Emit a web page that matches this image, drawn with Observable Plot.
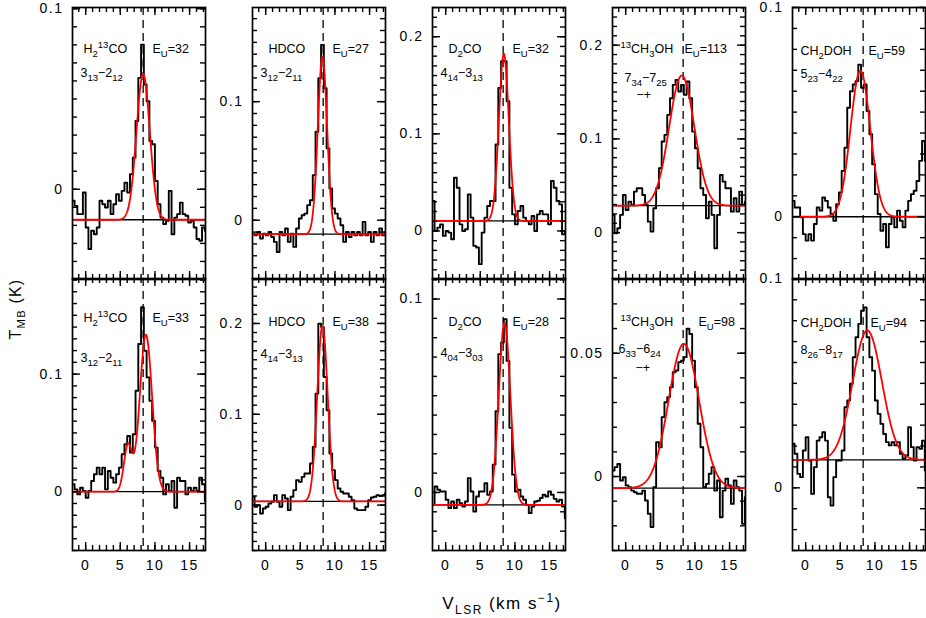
<!DOCTYPE html>
<html><head><meta charset="utf-8">
<script src="https://cdn.jsdelivr.net/npm/d3@7"></script>
<script src="https://cdn.jsdelivr.net/npm/@observablehq/plot@0.6"></script>
<style>
html,body{margin:0;padding:0;background:#fff;}
#chart{position:relative;width:926px;height:618px;overflow:hidden;font-family:"Liberation Sans",Arial,sans-serif;color:#000;}
#chart svg{position:absolute;}
#chart svg text{letter-spacing:1.5px;}
#chart svg g[font-size="12.5"] text{letter-spacing:0px;}
.ytitle{position:absolute;left:17px;top:309px;transform:translate(-50%,-50%) rotate(-90deg);font-size:16px;letter-spacing:1.2px;white-space:nowrap;}
.xtitle{position:absolute;left:502px;top:604px;transform:translate(-50%,-50%);font-size:17px;letter-spacing:1.5px;white-space:nowrap;}
sub,sup{font-size:70%;}
</style></head>
<body>
<div id="chart">
  <div class="ytitle">T<sub>MB</sub> (K)</div>
  <div class="xtitle">V<sub>LSR</sub> (km s<sup>−1</sup>)</div>
</div>
<script>
// ---------------- data ----------------
const velocity = [-1.8,-1.4,-1.0,-0.6,-0.2,0.2,0.6,1.0,1.4,1.8,2.2,2.6,3.0,3.4,3.8,4.2,4.6,5.0,5.4,5.8,6.2,6.6,7.0,7.4,7.8,8.2,8.6,9.0,9.4,9.8,10.2,10.6,11.0,11.4,11.8,12.2,12.6,13.0,13.4,13.8,14.2,14.6,15.0,15.4,15.8,16.2,16.6,17.0,17.4];

const tmb_H213CO_313 = [-0.0064,-0.0092,-0.0138,-0.0138,-0.0018,-0.0212,-0.0331,-0.0230,-0.0249,-0.0212,
 -0.0064,-0.0083,-0.0101,-0.0064,-0.0138,-0.0083,-0.0028,-0.0064,-0.0009,0.0037,
 -0.0018,0.0083,0.0175,0.0378,0.0617,0.0801,0.0580,0.0488,0.0267,0.0249,
 0.0046,-0.0083,-0.0157,-0.0193,-0.0175,-0.0009,-0.0249,-0.0157,-0.0138,-0.0074,
 -0.0138,-0.0147,-0.0184,-0.0175,-0.0212,-0.0276,-0.0285,-0.0212,-0.0230];
const tmb_HDCO_312 = [-0.0113,-0.0127,-0.0099,-0.0155,-0.0113,-0.0127,-0.0099,-0.0141,-0.0183,-0.0268,
 -0.0099,-0.0127,-0.0070,-0.0183,-0.0113,-0.0225,-0.0070,0.0014,0.0042,0.0056,
 0.0127,0.0169,0.0380,0.0746,0.1197,0.1479,0.1113,0.0606,0.0268,0.0099,
 0.0056,0.0014,-0.0042,-0.0183,-0.0099,-0.0141,-0.0099,-0.0127,-0.0099,-0.0127,
 -0.0014,-0.0127,-0.0099,-0.0183,-0.0099,-0.0127,-0.0070,-0.0127,-0.0099];
const tmb_D2CO_414 = [0.0308,0,0.0034,0.0068,-0.0051,0,-0.0017,-0.0086,0.0548,0.0445,
 0.0068,0,0.0017,0.0377,0.0137,-0.0154,-0.0171,-0.0342,-0.0017,0.0137,
 0.0257,0.0308,0.0308,0.0890,0.1473,0.1747,0.1747,0.1336,0.0445,0.0171,
 0.0068,0.0205,0.0257,0.0137,0.0103,0.0068,0.0154,0,0.0171,0.0205,
 0.0171,0.0171,0.0068,0.0514,0.0445,0.0308,0.0274,-0.0034,-0.0017];
const tmb_13CH3OH_734 = [0.0189,-0.0007,0.0046,0.0189,0.0402,0.0242,0.0331,0.0295,0.0438,0.0473,
 0.0473,0.0402,0.0295,0.0117,0.0011,0.0260,0.0473,0.0687,0.0972,0.1043,
 0.1256,0.1434,0.1577,0.1630,0.1505,0.1577,0.1470,0.1612,0.1434,0.1078,
 0.0900,0.0687,0.0473,0.0402,0.0153,0.0331,0.0189,-0.0167,0.0189,0.0616,
 0.0544,0.0473,0.0473,0.0224,0.0367,0.0224,0.0438,0.0295,0.0331];
const tmb_CH2DOH_523 = [0.0076,0.0044,0.0044,-0.0003,-0.0083,-0.0114,-0.0083,-0.0114,-0.0035,0.0044,
 0.0029,0.0092,0.0076,0.0044,0.0013,-0.0019,0.0060,0.0116,0.0219,0.0330,
 0.0521,0.0600,0.0632,0.0648,0.0727,0.0616,0.0632,0.0505,0.0394,0.0251,
 0.0108,0.0013,-0.0067,-0.0035,-0.0146,-0.0035,-0.0003,-0.0051,0.0029,-0.0019,
 -0.0051,0.0029,0.0076,0.0108,0.0124,0.0171,0.0267,0.0362,0.0267];
const tmb_H213CO_312 = [0.0063,0.0020,-0.0023,0.0034,0.0006,-0.0051,0.0006,0.0091,0.0148,0.0205,
 0.0148,0.0205,0.0020,0.0176,0.0119,0.0077,0.0148,0.0205,0.0318,0.0403,
 0.0474,0.0332,0.0489,0.0858,0.1256,0.1568,0.1199,0.0972,0.0773,0.0602,
 0.0375,0.0176,0.0119,-0.0023,0.0063,0.0006,0.0091,-0.0136,0.0119,0.0091,
 0.0091,-0.0023,0.0034,0.0006,0.0034,0.0006,0.0119,0.0063,-0.0080];
const tmb_HDCO_414 = [0.0092,-0.0018,0,-0.0092,-0.0037,-0.0018,0.0018,0.0037,0.0110,0.0037,
 -0.0018,0.0110,0.0073,-0.0055,0.0092,0.0165,0.0275,0.0256,0.0311,0.0348,
 0.0348,0.0458,0.0641,0.1227,0.1996,0.1960,0.1410,0.1044,0.0568,0.0385,
 0.0275,0.0183,0.0147,0.0128,0.0128,0.0092,0.0055,-0.0037,-0.0055,-0.0055,
 -0.0055,-0.0018,0.0055,0.0084,0.0092,0.0110,0.0099,0.0110,0.0128];
const tmb_D2CO_404 = [-0.0064,0.0031,0.0014,0.0005,0.0005,-0.0038,-0.0081,-0.0047,-0.0081,-0.0038,
 -0.0055,-0.0073,-0.0047,0.0074,0.0005,-0.0099,-0.0021,0.0005,0.0005,0.0048,
 -0.0012,0.0005,0.0144,0.0420,0.0715,0.0775,0.0896,0.0680,0.0334,0.0092,
 0.0005,0.0014,-0.0021,-0.0038,-0.0064,-0.0107,-0.0073,-0.0047,-0.0043,-0.0029,
 -0.0012,-0.0021,0.0005,-0.0012,-0.0033,-0.0047,-0.0038,-0.0073,-0.0133];
const tmb_13CH3OH_633 = [0.0024,0.0038,0.0051,-0.0016,-0.0003,-0.0036,-0.0043,-0.0057,-0.0064,-0.0070,
 -0.0070,-0.0057,-0.0097,-0.0151,-0.0205,-0.0043,0.0139,0.0119,0.0241,0.0301,
 0.0322,0.0362,0.0423,0.0430,0.0464,0.0470,0.0484,0.0599,0.0578,0.0470,
 0.0362,0.0214,0.0119,-0.0043,-0.0030,0.0011,0.0038,-0.0057,-0.0016,-0.0165,
 -0.0057,-0.0009,-0.0036,-0.0111,-0.0016,-0.0043,-0.0057,-0.0192,-0.0084];
const tmb_CH2DOH_826 = [0.0211,0.0163,0.0067,0.0051,0.0179,0.0242,0.0131,-0.0029,0.0099,0.0226,
 0.0242,0.0266,0.0226,-0.0045,-0.0085,0.0051,0.0131,0.0131,0.0179,0.0386,
 0.0418,0.0498,0.0625,0.0721,0.0785,0.0848,0.0864,0.0721,0.0625,0.0561,
 0.0418,0.0354,0.0306,0.0258,0.0219,0.0203,0.0219,0.0203,0.0219,0.0163,
 0.0139,0.0155,0.0290,0.0195,0.0131,0.0195,0.0187,0.0226,0.0083];

const species = ["H_{2}^{13}CO","HDCO","D_{2}CO","^{13}CH_{3}OH","CH_{2}DOH",
                 "H_{2}^{13}CO","HDCO","D_{2}CO","^{13}CH_{3}OH","CH_{2}DOH"];
const transitions = ["3_{13}−2_{12}","3_{12}−2_{11}","4_{14}−3_{13}","7_{34}−7_{25}","5_{23}−4_{22}",
                     "3_{12}−2_{11}","4_{14}−3_{13}","4_{04}−3_{03}","6_{33}−6_{24}","8_{26}−8_{17}"];
const parity = ["","","","−+","","","","","−+",""];
const upperEnergy = [32,27,32,113,59,33,38,28,98,94];

// Gaussian fit parameters (km/s, K)
const fitCenter = [8.3,8.2,8.4,8.1,7.9,8.7,8.2,8.5,8.4,8.9];
const fitFwhm   = [2.26,1.58,1.68,4.27,3.36,2.1,1.78,1.97,5.19,4.95];
const fitPeak   = [0.0808,0.1498,0.1722,0.1388,0.0698,0.1335,0.1934,0.0943,0.0585,0.0619];
const fitBase   = [-0.0169,-0.0118,0.0103,0.0288,0,0,0.004,-0.0064,-0.0047,0.0134];
// second (blue-shifted) component, H2^13CO 3_12-2_11 only
const fit2Center = [null,null,null,null,null,6.1,null,null,null,null];
const fit2Fwhm   = [null,null,null,null,null,1.37,null,null,null,null];
const fit2Peak   = [null,null,null,null,null,0.039,null,null,null,null];

const systemicVelocity = 8.3;
const yMin = [-0.05,-0.05,-0.05,-0.05,-0.03,-0.05,-0.05,-0.03,-0.03,-0.03];
const yMax = [0.1007,0.1794,0.2301,0.2402,0.1,0.1813,0.2495,0.1106,0.0803,0.1002];
const yMajor = [[0,0.1],[0,0.1],[0,0.1,0.2],[0,0.1,0.2],[0,0.1],[0,0.1],[0,0.1,0.2],[0,0.1],[0,0.05],[0,0.1]];
const xMajor = [0,5,10,15];
const xMinor = [-1,0,1,2,3,4,5,6,7,8,9,10,11,12,13,14,15,16,17];

const spectra = [tmb_H213CO_313,tmb_HDCO_312,tmb_D2CO_414,tmb_13CH3OH_734,tmb_CH2DOH_523,
                 tmb_H213CO_312,tmb_HDCO_414,tmb_D2CO_404,tmb_13CH3OH_633,tmb_CH2DOH_826];

// ---------------- layout (style only) ----------------
const nameDx  = [11,16,16,8,8,11,16,16,8,8];
const nameDy  = [37,37,37,37,39,35,39,39,39,40];
const transDx = [8,8,8,12,8,8,8,8,6,8];
const transDy = [61,61,61,66,62,75,71,70,66,67];
const parDx   = [0,0,0,24,0,0,0,0,23,0];
const parDy   = [0,0,0,83,0,0,0,0,85,0];
const eDx     = [80,80,80,72,76,80,80,80,86,78];

const XDOM = [-1.9, 17.3];
const FW = 133, FH = 272, ML = 47, MR = 3, MT = 10;
const FONT = "'Liberation Sans', Arial, sans-serif";
const LABEL_FS = 12.5, TICK_FS = 14;
const MAJ = 8, MIN = 5;

function gauss(v, c, w, a) {
  return a * Math.exp(-4 * Math.LN2 * (v - c) * (v - c) / (w * w));
}

function richify(svg, fs) {
  svg.querySelectorAll("text").forEach(t => {
    const s = t.textContent;
    if (!/[_^]\{/.test(s)) return;
    const re = /([_^])\{([^}]*)\}|([^_^]+)/g;
    while (t.firstChild) t.removeChild(t.firstChild);
    let shift = 0, m;
    while ((m = re.exec(s))) {
      const ts = document.createElementNS("http://www.w3.org/2000/svg", "tspan");
      let target = 0, txt;
      if (m[1]) {
        target = m[1] === "_" ? 0.32 * fs : -0.42 * fs;
        ts.setAttribute("font-size", (0.76 * fs).toFixed(1));
        txt = m[2];
      } else txt = m[3];
      ts.setAttribute("dy", (target - shift).toFixed(2));
      shift = target;
      ts.textContent = txt;
      t.appendChild(ts);
    }
  });
}

const container = document.getElementById("chart");
const fmt = d => d === 0 ? "0" : String(d);

for (let i = 0; i < 10; i++) {
  const row = Math.floor(i / 5), col = i % 5;
  const bottomRow = row === 1;
  const MB = bottomRow ? 30 : 2;
  const spec = spectra[i];
  const grid = d3.range(XDOM[0], XDOM[1] + 0.01, 0.05);
  const fit = grid.map(v => ({
    v,
    t: fitBase[i] + gauss(v, fitCenter[i], fitFwhm[i], fitPeak[i]) +
       (fit2Center[i] != null ? gauss(v, fit2Center[i], fit2Fwhm[i], fit2Peak[i]) : 0)
  }));
  const yMinor = d3.range(Math.ceil(yMin[i] / 0.01 - 1e-9), Math.floor(yMax[i] / 0.01 + 1e-9) + 1).map(k => +(k * 0.01).toFixed(2));

  // tick lengths: pixels converted to this panel's data units
  const ky = (yMax[i] - yMin[i]) / FH, kx = (XDOM[1] - XDOM[0]) / FW;
  const tk = {stroke: "#000", strokeWidth: 1.4};
  const xTicks = (vals, len) => [
    Plot.ruleX(vals, {x: d => d, y1: yMin[i], y2: yMin[i] + len * ky, ...tk}),
    Plot.ruleX(vals, {x: d => d, y1: yMax[i] - len * ky, y2: yMax[i], ...tk})
  ];
  const yTicks = (vals, len) => [
    Plot.ruleY(vals, {y: d => d, x1: XDOM[0], x2: XDOM[0] + len * kx, ...tk}),
    Plot.ruleY(vals, {y: d => d, x1: XDOM[1] - len * kx, x2: XDOM[1], ...tk})
  ];

  const marks = [
    Plot.ruleX([systemicVelocity], {x: d => d, stroke: "#000", strokeWidth: 1.3, strokeDasharray: "8,5"}),
    Plot.ruleY([fitBase[i]], {y: d => d, stroke: "#000", strokeWidth: 1.3}),
    Plot.line(spec, {x: velocity, y: spec, curve: "step", stroke: "#000", strokeWidth: 1.9, clip: true}),
    Plot.line(fit, {x: "v", y: "t", stroke: "#ff0000", strokeWidth: 1.8, clip: true}),
    ...xTicks(xMinor, MIN), ...xTicks(xMajor, MAJ),
    ...yTicks(yMinor, MIN), ...yTicks(yMajor[i], MAJ),
    Plot.frame({stroke: "#000", strokeWidth: 1.7}),
    Plot.text(yMajor[i], {y: d => d, text: fmt, frameAnchor: "left", textAnchor: "end", dx: -9, fontSize: TICK_FS}),
    Plot.text([species[i]], {text: d => d, frameAnchor: "top-left", textAnchor: "start", dx: nameDx[i], dy: nameDy[i], fontSize: LABEL_FS}),
    Plot.text([transitions[i]], {text: d => d, frameAnchor: "top-left", textAnchor: "start", dx: transDx[i], dy: transDy[i], fontSize: LABEL_FS}),
    Plot.text(["E_{U}=" + upperEnergy[i]], {text: d => d, frameAnchor: "top-left", textAnchor: "start", dx: eDx[i], dy: nameDy[i], fontSize: LABEL_FS})
  ];
  if (parity[i]) {
    marks.push(Plot.text([parity[i]], {text: d => d, frameAnchor: "top-left", textAnchor: "start", dx: parDx[i], dy: parDy[i], fontSize: LABEL_FS}));
  }
  if (bottomRow) {
    marks.push(Plot.text(xMajor, {x: d => d, text: d => String(d), frameAnchor: "bottom", dy: 19, fontSize: TICK_FS}));
  }

  const svg = Plot.plot({
    width: ML + FW + MR,
    height: MT + FH + MB,
    marginLeft: ML, marginRight: MR, marginTop: MT, marginBottom: MB,
    x: {domain: XDOM, axis: null},
    y: {domain: [yMin[i], yMax[i]], axis: null},
    style: {background: "transparent", overflow: "visible", fontFamily: FONT, fontSize: TICK_FS + "px", color: "#000"},
    marks
  });
  richify(svg, LABEL_FS);
  svg.style.left = (72 - ML + 180 * col) + "px";
  svg.style.top = (bottomRow ? 278 - MT : 7 - MT) + "px";
  container.appendChild(svg);
}
</script>
</body></html>
